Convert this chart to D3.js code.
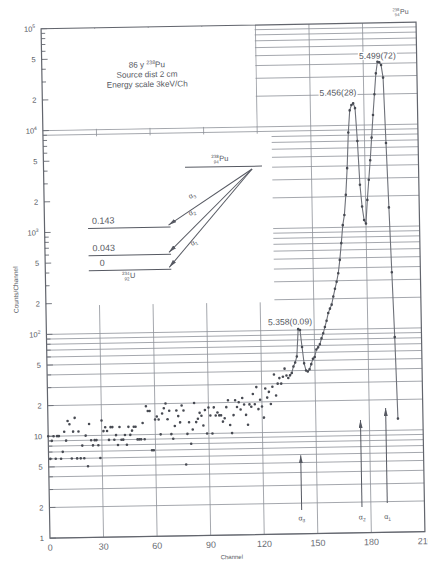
<!DOCTYPE html>
<html>
<head>
<meta charset="utf-8">
<script src="https://cdn.jsdelivr.net/npm/d3@7"></script>
<style>
  body { margin: 0; background: #fff; }
  svg { display: block; font-family: "Liberation Sans", Arial, sans-serif; }
</style>
</head>
<body>
<svg width="428" height="563"></svg>
<script>
// counts per channel, index = channel number
const counts = [
    10, 6, 9, 10, 6, 10, 10, 6, 7, 11, 9, 14, 13, 6, 11, 15, 6, 11, 6, 8, 6, 10, 5, 13, 9, 8, 9, 9, 8, 6, 14, 11,
    12, 11, 9, 12, 12, 9, 10, 8, 12, 9, 9, 10, 8, 12, 10, 11, 12, 12, 9, 9, 9, 13, 9, 19, 17, 17, 7, 7, 14,
    15, 14, 10, 16, 18, 20, 14, 17, 10, 9, 12, 17, 15, 13, 19, 17, 5, 10, 13, 8, 11, 20, 13, 14, 16, 15, 12, 17, 10, 18,
    15, 10, 18, 15, 16, 15, 15, 13, 14, 18, 21, 12, 10, 15, 21, 18, 20, 17, 22, 19, 15, 12, 19, 18, 24, 19, 28, 17,
    21, 18, 14, 27, 22, 25, 19, 28, 37, 23, 30, 34, 30, 35, 42, 36,
    34, 36, 38, 44, 48, 55, 102, 100, 68, 47, 40, 39, 41, 46, 52, 54, 64, 67, 72, 82, 92, 106, 122, 145, 160, 175,
    210, 250, 293, 355, 480, 700, 1050, 1320, 2080, 3800, 8500, 14000, 15800, 16400, 14700, 7000, 2600, 1590,
    1170, 1080, 1840, 2900, 4500, 7500, 12500, 20000, 32000, 41600, 41000, 38500, 29000, 6600, 1540, 355, 82, 13
];
const lineFrom = 136;   // points from here on are joined

const xTicks = [0, 30, 60, 90, 120, 150, 180, 210];
const yTicks = [1, 2, 5, 10, 20, 50, 100, 200, 500, 1000, 2000, 5000, 10000, 20000, 50000, 100000];
const yTickBase = ['1', '2', '5', '10', '2', '5', '10', '2', '5', '10', '2', '5', '10', '2', '5', '10'];
const yTickPow = ['', '', '', '', '', '', '2', '', '', '3', '', '', '4', '', '', '5'];

const peakChannels = [141, 174, 188];
const peakLabels = ['5.358(0.09)', '5.456(28)', '5.499(72)'];

const alphaNames = ['3', '2', '1'];
const alphaChannels = [141.2, 175, 189.2];
const alphaTops = [5.9, 12.8, 16.6];
const alphaBottoms = [1.71, 1.79, 1.94];

const levelEnergies = [0.143, 0.043, 0];
const levelLabels = ['0.143', '0.043', '0'];

const ink = '#565962', gridInk = '#8e9199';

const svg = d3.select('svg');
const x = d3.scaleLinear().domain([0, 210]).range([45.5, 420.5]);
const y = d3.scaleLog().domain([1, 1e5]).range([535, 25.5]);

svg.append('rect').attr('width', 428).attr('height', 563).attr('fill', '#fff');
svg.append('defs').append('marker')
    .attr('id', 'head').attr('viewBox', '0 0 8 4').attr('refX', 8).attr('refY', 2)
    .attr('markerWidth', 8).attr('markerHeight', 4).attr('markerUnits', 'userSpaceOnUse')
    .attr('orient', 'auto')
    .append('path').attr('d', 'M0,0L8,2L0,4Z').attr('fill', ink);

// the scanned page is a little tilted
const g = svg.append('g').attr('transform', 'rotate(-1 230 280)');

// log grid, 1..9 in every decade
const gridValues = d3.range(0, 5).flatMap(p => d3.range(1, 10).map(m => m * 10 ** p));
g.append('g').selectAll('line').data(gridValues).join('line')
    .attr('x1', x(0)).attr('x2', x(210))
    .attr('y1', d => y(d)).attr('y2', d => y(d))
    .attr('stroke', gridInk).attr('stroke-width', 0.8);
g.append('g').selectAll('line').data(xTicks.slice(1, -1)).join('line')
    .attr('x1', d => x(d)).attr('x2', d => x(d))
    .attr('y1', y(1)).attr('y2', y(1e5))
    .attr('stroke', gridInk).attr('stroke-width', 0.8);

// blank areas: note box and decay scheme inset
g.append('rect').attr('x', x(0) + 1).attr('y', y(1e5) + 1)
    .attr('width', x(120) - x(0) - 1.8).attr('height', y(1e4) - y(1e5) - 1.8).attr('fill', '#fff');
g.append('rect').attr('x', x(0) + 1).attr('y', y(8600))
    .attr('width', x(128) - x(0) - 1).attr('height', y(190) - y(8600)).attr('fill', '#fff');

g.append('rect').attr('x', x(0)).attr('y', y(1e5))
    .attr('width', x(210) - x(0)).attr('height', y(1) - y(1e5))
    .attr('fill', 'none').attr('stroke', '#62656d').attr('stroke-width', 1.2);

// left axis ticks
g.append('g').selectAll('line').data(gridValues.concat([1e5])).join('line')
    .attr('x1', x(0)).attr('x2', d => x(0) + (yTicks.includes(d) ? 6 : 4))
    .attr('y1', d => y(d)).attr('y2', d => y(d))
    .attr('stroke', '#6a6d75').attr('stroke-width', 0.9);

const yLab = g.append('g').selectAll('text').data(yTicks).join('text')
    .attr('x', x(0) - 6).attr('y', d => y(d) + 2.7)
    .attr('text-anchor', 'end').attr('font-size', 7.5).attr('fill', ink);
yLab.append('tspan').text((d, i) => yTickBase[i]);
yLab.append('tspan').attr('dy', -3.5).attr('font-size', 5).text((d, i) => yTickPow[i]);

g.append('g').selectAll('text').data(xTicks).join('text')
    .attr('x', d => x(d)).attr('y', y(1) + 12.5)
    .attr('text-anchor', 'middle').attr('font-size', 9).attr('fill', '#6a6d75')
    .text(d => d);

g.append('text').attr('x', 227).attr('y', 559).attr('text-anchor', 'middle')
    .attr('font-size', 6).attr('fill', ink).text('Channel');
g.append('text').attr('transform', 'translate(18,286) rotate(-90)').attr('text-anchor', 'middle')
    .attr('font-size', 6.5).attr('fill', ink).text('Counts/Channel');

function nuclide(parent, px, py, mass, z, sym, fs) {
    const t = parent.append('g').attr('transform', `translate(${px},${py})`).attr('fill', ink);
    t.append('text').attr('font-size', fs).text(sym);
    t.append('text').attr('x', -0.5).attr('y', -fs * 0.42).attr('text-anchor', 'end')
        .attr('font-size', fs * 0.6).text(mass);
    if (z) t.append('text').attr('x', -0.5).attr('y', fs * 0.32).attr('text-anchor', 'end')
        .attr('font-size', fs * 0.6).text(z);
}
nuclide(g, 404.6, 17, '238', '94', 'Pu', 7);

// note box
const note = g.append('g').attr('font-size', 8.2).attr('fill', ink).attr('text-anchor', 'middle');
const l1 = note.append('text').attr('x', 150.6).attr('y', 66);
l1.append('tspan').text('86 y ');
l1.append('tspan').attr('dy', -3.2).attr('font-size', 5.2).text('238');
l1.append('tspan').attr('dy', 3.2).text('Pu');
note.append('text').attr('x', 150.6).attr('y', 75.8).text('Source dist 2 cm');
note.append('text').attr('x', 150.6).attr('y', 85.6).text('Energy scale 3keV/Ch');

// spectrum
const pts = counts.map((c, i) => [i, c]);
g.append('path').datum(pts.slice(lineFrom))
    .attr('d', d3.line().x(d => x(d[0])).y(d => y(d[1])))
    .attr('fill', 'none').attr('stroke', '#6e7179').attr('stroke-width', 1.1);
g.append('g').selectAll('circle').data(pts).join('circle')
    .attr('cx', d => x(d[0])).attr('cy', d => y(d[1])).attr('r', 1.3)
    .attr('fill', '#474a52');

// peak energies (MeV) with relative intensity
const labelOffsets = [[-8, -4.5], [-15, -8], [0, -3]];
peakChannels.forEach((c, i) => {
    const lx = x(c) + labelOffsets[i][0], ly = y(counts[c]) + labelOffsets[i][1];
    const bg = g.append('rect').attr('fill', '#fff');
    const t = g.append('text').attr('x', lx).attr('y', ly).attr('text-anchor', 'middle')
        .attr('font-size', 8.6).attr('fill', ink).text(peakLabels[i]);
    const b = t.node().getBBox();
    bg.attr('x', b.x - 1).attr('y', b.y + 1).attr('width', b.width + 2).attr('height', b.height - 2);
});

// alpha group arrows along the bottom
alphaChannels.forEach((c, i) => {
    g.append('line').attr('x1', x(c)).attr('x2', x(c))
        .attr('y1', y(alphaBottoms[i])).attr('y2', y(alphaTops[i]))
        .attr('stroke', ink).attr('stroke-width', 1).attr('marker-end', 'url(#head)');
    const t = g.append('text').attr('x', x(c)).attr('y', y(1.43) + 2.5).attr('text-anchor', 'middle')
        .attr('font-size', 7).attr('fill', ink);
    t.append('tspan').text('\u03b1');
    t.append('tspan').attr('dy', 1.8).attr('font-size', 4.8).text(alphaNames[i]);
});

// decay scheme inset
const lv = d3.scaleLinear().domain([0, 0.043, 0.143]).range([268.3, 253.3, 226]);
const inset = g.append('g').attr('stroke', ink).attr('stroke-width', 1);
inset.append('line').attr('x1', 187).attr('x2', 264).attr('y1', 166.6).attr('y2', 166.6);
nuclide(g, 221.3, 160.8, '238', '94', 'Pu', 7.5);
levelEnergies.forEach((e, i) => {
    inset.append('line').attr('x1', 89).attr('x2', 171.5).attr('y1', lv(e)).attr('y2', lv(e));
    inset.append('line').attr('x1', 254).attr('y1', 169.4).attr('x2', 169.5).attr('y2', lv(e) - 2)
        .attr('marker-end', 'url(#head)');
    g.append('text').attr('x', e === 0 ? 100 : 93).attr('y', lv(e) - 4.5)
        .attr('font-size', 9).attr('fill', ink).text(levelLabels[i]);
});
nuclide(g, 130, 276.3, '234', '92', 'U', 7.5);
[[194.4, 196.8], [194.1, 213.7], [195.5, 243.7]].forEach((p, i) => {
    const t = g.append('text').attr('transform', `translate(${p[0]},${p[1]}) rotate(-28)`)
        .attr('font-size', 7).attr('fill', ink).attr('text-anchor', 'middle');
    t.append('tspan').text('\u03b1');
    t.append('tspan').attr('dy', 1.8).attr('font-size', 4.8).text(alphaNames[i]);
});
</script>
</body>
</html>
